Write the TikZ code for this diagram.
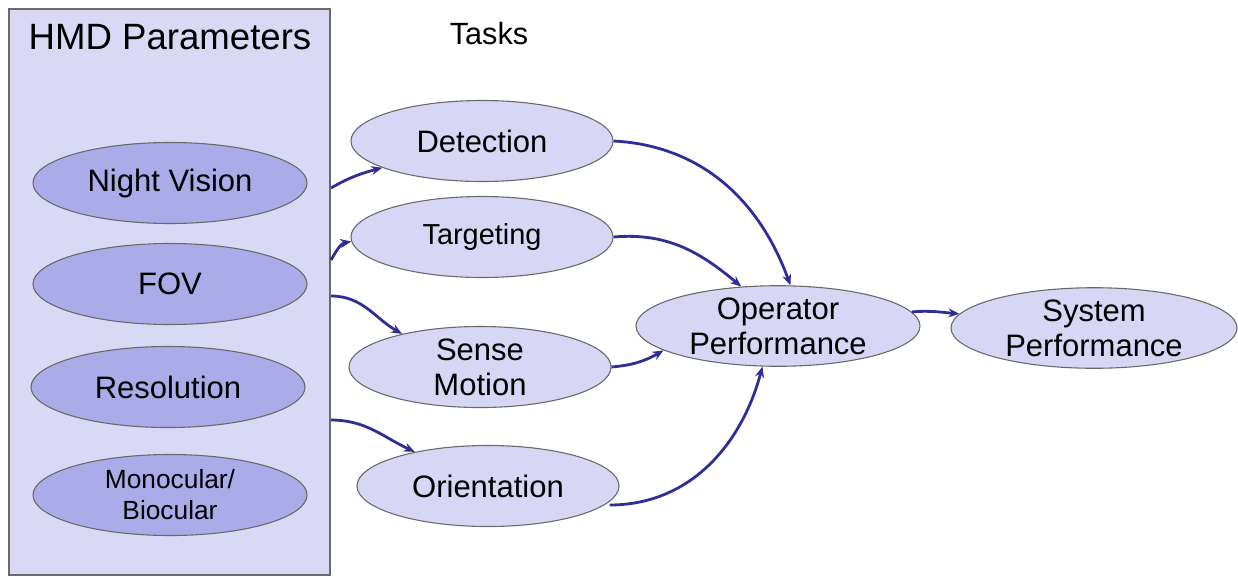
\documentclass[tikz,border=0pt]{standalone}
\usepackage{fontspec}
\setmainfont{Liberation Sans}
\usetikzlibrary{arrows.meta}
\definecolor{panelfill}{HTML}{D9D9F5}
\definecolor{paramfill}{HTML}{ABABE9}
\definecolor{taskfill}{HTML}{D7D7F5}
\definecolor{edgeblue}{HTML}{2E2E96}
\definecolor{bordergray}{HTML}{6A6A6A}
\tikzset{
  param/.style={ellipse, draw=bordergray, line width=1.1pt, fill=paramfill, inner sep=0pt,
    minimum width=274pt, minimum height=81pt, align=center, font=\fontsize{31}{35}\selectfont},
  task/.style={ellipse, draw=bordergray, line width=1.1pt, fill=taskfill, inner sep=0pt,
    minimum width=262pt, minimum height=81pt, align=center, font=\fontsize{31}{35}\selectfont},
  link/.style={draw=edgeblue, line width=2.8pt, -{Stealth[length=11pt,width=9pt]}},
}
\usetikzlibrary{shapes.geometric}
\begin{document}
\begin{tikzpicture}[x=1pt,y=-1pt]
\useasboundingbox (0,0) rectangle (1238,576);
\node[draw=bordergray, line width=1.2pt, fill=panelfill, minimum width=321pt, minimum height=566pt, inner sep=0pt] (panel) at (169.5,292) {};
\node[font=\fontsize{36.6}{40}\selectfont] (hmd) at (170,37) {HMD Parameters};
\node[font=\fontsize{30.7}{34}\selectfont] (tasks) at (489,34) {Tasks};

\node[param] (nv) at (170,183) {Night Vision};
\node[param] (fov) at (170,284) {FOV};
\node[param] (res) at (168,387) {Resolution};
\node[param, font=\fontsize{26.3}{31}\selectfont] (mono) at (170,495) {Monocular/\\Biocular};

\node[task] (det) at (482,141) {Detection};
\node[task, font=\fontsize{28.9}{33}\selectfont] (targ) at (482,237) {Targeting};
\node[task] (sense) at (480,367) {Sense\\Motion};
\node[task] (orient) at (488,486) {Orientation};
\node[task, minimum width=284pt, minimum height=80pt] (op) at (778,326) {Operator\\Performance};
\node[task, minimum width=286pt, minimum height=80pt] (sys) at (1094,328) {System\\Performance};

\coordinate (s1) at (331,188);
\coordinate (s2) at (331,260);
\coordinate (s3) at (331,296);
\coordinate (s4) at (331,420);

\draw[link] (s1) to[out=30,in=195] (det.195);
\draw[link] (s2) to[out=60,in=190] (targ.182);
\draw[link] (s3) to[out=0,in=150] (sense.157);
\draw[link] (s4) to[out=0,in=155] (orient.155);
\draw[link] (det.east) to[out=-3,in=110] (op.73);
\draw[link] (targ.east) to[out=5,in=140] (op.133);
\draw[link] (sense.east) to[out=5,in=210] (op.192);
\path (orient.east) ++(-10,19) coordinate (oe);
\draw[link] (oe) to[out=0,in=-105] (op.249);
\draw[link] (op.6) to[out=5,in=175] (sys.174);
\end{tikzpicture}
\end{document}
